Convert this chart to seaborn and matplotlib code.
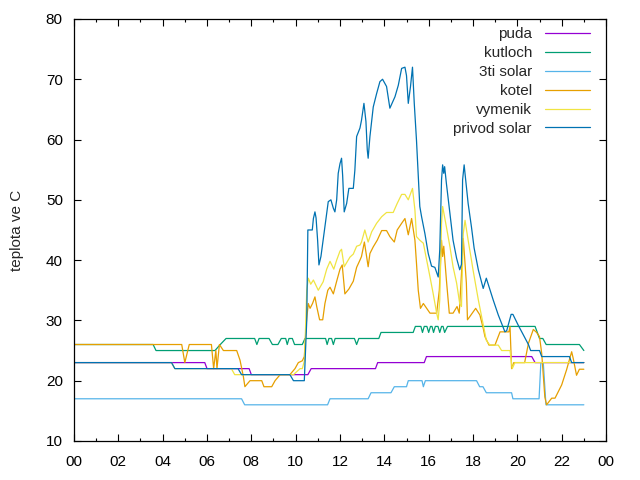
import pandas as pd
import matplotlib
matplotlib.use("Agg")
import matplotlib.pyplot as plt
import seaborn as sns

# series names (legend order = drawing order)
names = ["puda", "kutloch", "3ti solar", "kotel", "vymenik", "privod solar"]
colors = ["#9400d3", "#009e73", "#56b4e9", "#e69f00", "#f0e442", "#0072b2"]

# hours of day / temperature in C
puda_t = [0, 5.9, 6.0, 7.9, 8.0, 10.55, 10.7, 13.6, 13.7, 15.8, 15.9, 20.65, 20.8, 23.0]
puda_v = [23, 23, 22, 22, 21, 21, 22, 22, 23, 23, 24, 24, 23, 23]

kutloch_t = [0, 3.57, 3.7, 6.36, 6.6, 6.86, 8.15, 8.25, 8.35, 8.8, 8.95, 9.2, 9.35, 9.55,
             9.62, 9.7, 9.85, 9.95, 10.3, 10.42, 11.35, 11.42, 11.5, 11.62, 11.7, 11.78,
             12.65, 12.75, 12.85, 13.75, 13.85, 15.3, 15.4, 15.65, 15.72, 15.8, 15.92, 16.0,
             16.08, 16.15, 16.22, 16.3, 16.42, 16.5, 16.58, 16.65, 16.72, 16.85, 20.8, 20.9,
             21.0, 21.15, 21.3, 22.8, 23.0]
kutloch_v = [26, 26, 25, 25, 26, 27, 27, 26, 27, 27, 26, 26, 27, 27,
             26, 27, 27, 26, 26, 27, 27, 26, 27, 27, 26, 27,
             27, 26, 27, 27, 28, 28, 29, 29, 28, 29, 29, 28,
             29, 29, 28, 29, 29, 28, 29, 29, 28, 29, 29, 28,
             27, 27, 26, 26, 25]

solar3_t = [0, 7.56, 7.7, 11.44, 11.55, 13.27, 13.4, 14.3, 14.45, 15.0, 15.08, 15.7, 15.76,
            15.85, 18.16, 18.3, 18.45, 18.6, 19.74, 19.8, 20.98, 21.06, 21.17, 21.29, 23.0]
solar3_v = [17, 17, 16, 16, 17, 17, 18, 18, 19, 19, 20, 20, 19,
            20, 20, 19, 19, 18, 18, 17, 17, 23, 23, 16, 16]

kotel_t = [0, 4.86, 5.0, 5.2, 6.2, 6.3, 6.4, 6.45, 6.56, 6.65, 6.74, 7.34, 7.49, 7.64, 7.71,
           7.94, 8.47, 8.57, 8.92, 9.07, 9.3, 9.74, 9.97, 10.12, 10.3, 10.39, 10.49, 10.57,
           10.65, 10.76, 10.87, 10.95, 11.08, 11.22, 11.32, 11.45, 11.55, 11.7, 11.85, 12.0,
           12.1, 12.22, 12.4, 12.6, 12.75, 12.9, 12.97, 13.1, 13.2, 13.27, 13.35, 13.5,
           13.68, 13.88, 14.1, 14.25, 14.45, 14.58, 14.78, 14.93, 15.08, 15.23, 15.38, 15.45,
           15.53, 15.63, 15.76, 16.06, 16.36, 16.48, 16.58, 16.63, 16.68, 16.8, 16.93, 17.1,
           17.28, 17.38, 17.48, 17.56, 17.62, 17.7, 17.75, 17.85, 18.12, 18.31, 18.46, 18.54,
           18.72, 18.99, 19.22, 19.62, 19.67, 19.74, 19.84, 20.33, 20.5, 20.72, 20.87, 21.0,
           21.1, 21.24, 21.32, 21.55, 21.7, 22.0, 22.22, 22.45, 22.52, 22.67, 22.8, 23.0]
kotel_v = [26, 26, 23, 26, 26, 22, 25, 22, 26, 25.5, 25, 25, 23.4, 20.7, 19,
           20, 20, 19, 19, 20, 21, 21, 22, 23, 23.3, 24, 30, 32.8,
           32, 32.8, 33.9, 32.3, 30.1, 30.1, 32.8, 35, 35.5, 34.4, 36.5, 38.5,
           39.2, 34.4, 35.2, 36.5, 38.8, 40, 40.6, 43, 40.6, 38.9, 41.1, 42.2,
           43.3, 44.9, 44.9, 43.9, 43, 45, 46.1, 46.9, 44.2, 46.9, 43.3, 39.5,
           35, 32, 32.8, 31.2, 31.2, 35, 43.3, 40.6, 42.3, 36.7, 31.2, 31.2,
           32.3, 31.2, 37.8, 43.6, 40.5, 36.2, 30.1, 30.6, 32, 30.9, 28.7, 27.3,
           25.9, 25.9, 28.1, 28.1, 29, 22, 23, 23, 26.2, 28.5, 28, 27.3,
           24.5, 17.3, 16, 17.1, 17.1, 19.3, 21.8, 24.8, 23.7, 20.9, 21.9, 21.9]

vymenik_t = [0, 4.4, 4.55, 7.1, 7.25, 9.9, 10.2, 10.3, 10.4, 10.5, 10.57, 10.68, 10.8, 11.02,
             11.24, 11.4, 11.55, 11.72, 11.85, 12.0, 12.07, 12.19, 12.45, 12.6, 12.75, 12.9,
             12.97, 13.12, 13.27, 13.43, 13.65, 13.88, 14.1, 14.4, 14.58, 14.78, 14.93, 15.08,
             15.27, 15.38, 15.45, 15.6, 15.76, 15.91, 16.06, 16.2, 16.36, 16.43, 16.5, 16.58,
             16.63, 16.8, 16.96, 17.1, 17.26, 17.4, 17.48, 17.56, 17.64, 17.78, 17.93, 18.0,
             18.24, 18.39, 18.51, 18.6, 18.76, 19.14, 19.29, 19.67, 19.77, 19.89, 23.0]
vymenik_v = [23, 23, 22, 22, 21, 21, 22, 22, 23.4, 35, 37, 36, 36.7, 35,
             36.4, 38.5, 39.8, 38.5, 40, 41.5, 41.8, 38.9, 40.5, 41, 42.3, 42.5,
             43, 45, 43, 44.7, 46.1, 47.2, 47.9, 47.9, 49.4, 50.9, 50.9, 50,
             51.9, 48.3, 43.9, 43.3, 42.8, 40, 37.2, 34.5, 31.2, 30.1, 33.4, 46.1,
             48.9, 45.5, 42.2, 38.9, 36.2, 32.8, 32.3, 44.4, 46.6, 43.3, 40, 38.4,
             33.4, 30.6, 28.4, 26.7, 25.9, 25.9, 25, 25, 22, 23, 23]

privod_t = [0, 4.4, 4.55, 7.4, 7.56, 9.74, 9.9, 10.39, 10.5, 10.55, 10.75, 10.8, 10.87, 10.92,
            10.99, 11.05, 11.14, 11.3, 11.47, 11.59, 11.7, 11.77, 11.85, 11.92, 12.0, 12.07,
            12.12, 12.19, 12.3, 12.4, 12.6, 12.67, 12.75, 12.9, 12.97, 13.08, 13.17, 13.23,
            13.27, 13.35, 13.5, 13.65, 13.8, 13.92, 14.1, 14.25, 14.48, 14.63, 14.78, 14.93,
            15.0, 15.08, 15.18, 15.27, 15.35, 15.45, 15.6, 15.68, 15.83, 15.98, 16.13, 16.28,
            16.43, 16.5, 16.58, 16.63, 16.68, 16.72, 16.8, 16.96, 17.1, 17.26, 17.4, 17.48,
            17.53, 17.6, 17.65, 17.78, 17.93, 18.05, 18.24, 18.46, 18.6, 18.91, 19.14, 19.44,
            19.52, 19.72, 19.8, 20.04, 20.27, 20.5, 20.6, 21.0, 21.1, 22.35, 22.45, 23.0]
privod_v = [23, 23, 22, 22, 21, 21, 20, 20, 30, 45, 45, 46.9, 48, 47,
            43.3, 39.2, 40.6, 45, 49.7, 50, 48.6, 48, 50, 54.4, 56, 56.9,
            54, 48, 49.4, 51.9, 51.9, 54.9, 60.5, 61.9, 63.2, 66, 63, 58.3,
            56.9, 60.5, 65.4, 67.6, 69.6, 70, 68.8, 65.2, 67.1, 69, 71.8, 72,
            70.6, 66, 68.8, 72, 66, 59.9, 48.9, 47.2, 44.4, 41.1, 39, 38.8,
            37.2, 41.7, 53.3, 55.8, 54.4, 55.5, 52.7, 47.7, 43.3, 40.3, 38.4, 39.3,
            53.3, 55.8, 54, 49.4, 45.5, 42, 38.4, 35.3, 37, 33.4, 30.9, 28.1,
            28.3, 31, 31, 29.2, 27.6, 26, 25, 25, 24, 24, 23, 23]

series = [(puda_t, puda_v), (kutloch_t, kutloch_v), (solar3_t, solar3_v),
          (kotel_t, kotel_v), (vymenik_t, vymenik_v), (privod_t, privod_v)]

frames = []
for name, (t, v) in zip(names, series):
    frames.append(pd.DataFrame({"cas": t, "teplota": v, "cidlo": name}))
df = pd.concat(frames, ignore_index=True)

sns.set_style("ticks")
plt.rcParams["font.family"] = ["Liberation Sans", "DejaVu Sans"]
fs = 11

fig = plt.figure(figsize=(6.4, 4.8), dpi=100)
ax = fig.add_axes([0.1156, 0.0813, 0.8313, 0.8792])

sns.lineplot(data=df, x="cas", y="teplota", hue="cidlo", hue_order=names,
             palette=dict(zip(names, colors)), estimator=None, sort=False,
             linewidth=0.9, ax=ax)

ax.set_xlim(0, 24)
ax.set_ylim(10, 80)
ax.set_xticks(range(0, 25, 2))
ax.set_xticklabels([f"{h % 24:02d}" for h in range(0, 25, 2)])
ax.set_xticks(range(1, 24, 2), minor=True)
ax.set_yticks(range(10, 81, 10))
ax.set_xlabel("")
ax.set_ylabel("teplota ve C", fontsize=fs, labelpad=16)

ax.tick_params(axis="both", which="both", direction="in", top=True, right=True,
               colors="black", labelsize=fs, width=0.8)
ax.tick_params(axis="both", which="major", length=5)
ax.tick_params(axis="x", which="minor", length=2.5)
ax.tick_params(axis="x", which="major", pad=10)
ax.tick_params(axis="y", which="major", pad=8)
for s in ax.spines.values():
    s.set_linewidth(0.9)
    s.set_color("black")

handles, labels = ax.get_legend_handles_labels()
leg = ax.legend(handles, labels, loc="upper right", markerfirst=False, frameon=False,
                fontsize=fs, handlelength=2.95, handletextpad=0.85, labelspacing=0.32,
                borderaxespad=0.0, borderpad=0.0, bbox_to_anchor=(0.97, 0.98))
leg._legend_handle_box.get_children()[0].align = "right"

fig.savefig("out.png", dpi=100)
